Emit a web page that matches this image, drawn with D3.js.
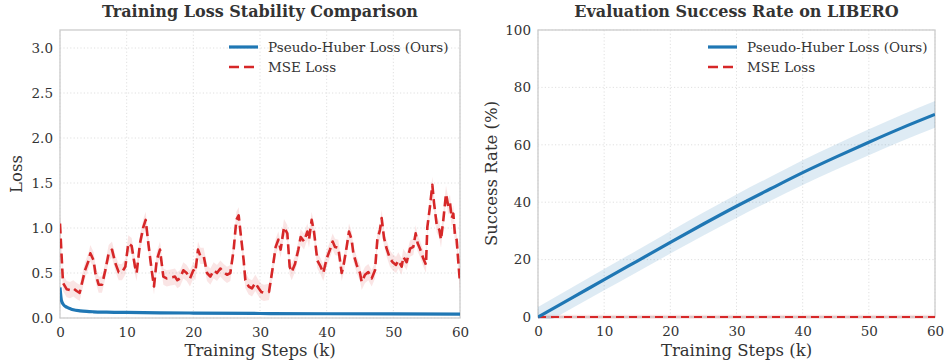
<!DOCTYPE html>
<html><head><meta charset="utf-8">
<script src="https://cdn.jsdelivr.net/npm/d3@7"></script>
<style>
body{margin:0;background:#fff;}
svg text{font-family:"DejaVu Serif",serif;fill:#333;}
</style></head>
<body><svg id="c" width="949" height="364"></svg>
<script>
// ---- data ----
const seriesNames = ["Pseudo-Huber Loss (Ours)", "MSE Loss"];
const xTicks = [0, 10, 20, 30, 40, 50, 60];
const lossTicks = [0.0, 0.5, 1.0, 1.5, 2.0, 2.5, 3.0];
const successTicks = [0, 20, 40, 60, 80, 100];

const huberSteps = [0, 0.2, 0.5, 1, 1.5, 2, 3, 4, 5, 7, 10, 15, 20, 30, 40, 50, 60];
const huberLoss  = [0.34, 0.2, 0.15, 0.12, 0.105, 0.092, 0.08, 0.073, 0.069, 0.065, 0.062, 0.058, 0.055, 0.05, 0.047, 0.045, 0.044];
const huberBand = 0.012;

const mseSteps = [0,0.2,0.45,1.0,1.5,2.0,2.5,2.95,3.4,3.75,4.3,4.55,5.05,5.3,5.8,6.3,6.8,7.3,7.8,8.3,8.8,9.3,9.8,10.25,10.75,11.25,11.5,12,12.5,12.85,13.25,13.75,14.1,14.5,15,15.5,16,16.6,17.25,17.6,18,18.5,19,19.5,20,20.3,20.7,21.05,21.55,22.05,22.55,23.05,23.55,24.05,24.55,25.05,25.55,26.05,26.45,26.8,27.2,27.55,27.8,28.3,28.8,29.3,29.8,30.2,30.6,31.35,31.85,32.35,32.75,33.1,33.6,34.1,34.45,34.75,35.25,35.75,36.1,36.6,37.1,37.35,37.75,38.1,38.6,39.1,39.5,40,40.5,40.9,41.25,41.75,42.25,42.5,43,43.35,43.75,44,44.5,45,45.25,45.75,46.25,46.75,47.25,47.6,48,48.25,48.6,49,49.5,49.9,50.4,50.75,51.25,51.5,52,52.5,53,53.35,53.65,54,54.5,54.9,55.1,55.5,55.85,56.1,56.5,56.9,57.15,57.5,57.9,58.25,58.5,58.75,59,59.25,59.5,59.75,60];
const mseLoss = [1.05,0.75,0.39,0.32,0.31,0.33,0.30,0.28,0.42,0.53,0.64,0.72,0.64,0.5,0.37,0.37,0.53,0.72,0.76,0.61,0.51,0.51,0.57,0.83,0.80,0.57,0.50,0.83,1.01,1.09,0.83,0.53,0.35,0.64,0.76,0.46,0.44,0.45,0.46,0.42,0.44,0.53,0.50,0.44,0.53,0.51,0.76,0.69,0.69,0.50,0.46,0.53,0.50,0.55,0.51,0.48,0.50,0.76,1.09,1.14,0.87,0.64,0.42,0.35,0.33,0.39,0.33,0.29,0.28,0.29,0.53,0.79,0.87,0.76,1.01,0.94,0.57,0.51,0.60,0.76,0.90,0.85,0.96,0.87,1.09,0.96,0.64,0.57,0.50,0.66,0.76,0.85,0.79,0.78,0.50,0.57,0.79,0.96,0.87,0.72,0.59,0.50,0.40,0.48,0.51,0.44,0.53,0.87,0.98,1.11,0.89,0.77,0.66,0.62,0.59,0.64,0.57,0.68,0.62,0.77,0.79,0.94,0.83,0.77,0.66,0.59,1.01,1.24,1.48,1.28,1.04,0.98,0.87,1.09,1.38,1.24,1.28,1.11,1.16,0.91,0.87,0.62,0.39];
const mseBand = 0.09;

const evalSteps = [0, 5, 10, 15, 20, 25, 30, 35, 40, 45, 50, 55, 60];
const huberSuccess = [0, 6.5, 13.0, 19.5, 26.0, 32.4, 38.6, 44.5, 50.3, 55.7, 60.9, 65.9, 70.6];
const huberSuccessBand = [3.5, 3.6, 3.7, 3.8, 3.9, 4.0, 4.1, 4.2, 4.3, 4.4, 4.5, 4.6, 4.7];
const mseSuccess = [0, 0, 0, 0, 0, 0, 0, 0, 0, 0, 0, 0, 0];
const mseSuccessBand = 0.8;

// ---- drawing ----
const blue = "#1f77b4", red = "#d62728";
const svg = d3.select("#c");

function panel(o) {
  const g = svg.append("g");
  const x = d3.scaleLinear().domain([0, 60]).range([o.x0, o.x1]);
  const y = d3.scaleLinear().domain(o.yDomain).range([o.y0, o.y1]);
  const clipId = "clip" + o.id;
  svg.append("clipPath").attr("id", clipId).append("rect")
    .attr("x", o.x0).attr("y", o.y1).attr("width", o.x1 - o.x0).attr("height", o.y0 - o.y1 + o.clipExtra);
  // grid
  g.selectAll(".gx").data(xTicks).join("line")
    .attr("x1", d => x(d)).attr("x2", d => x(d)).attr("y1", o.y0).attr("y2", o.y1)
    .attr("stroke", "#dcdcdc").attr("stroke-width", 0.9).attr("stroke-dasharray", "1.2,2.2");
  g.selectAll(".gy").data(o.yTicks).join("line")
    .attr("x1", o.x0).attr("x2", o.x1).attr("y1", d => y(d)).attr("y2", d => y(d))
    .attr("stroke", "#dcdcdc").attr("stroke-width", 0.9).attr("stroke-dasharray", "1.2,2.2");
  // axes labels via d3 axes
  const ax = g.append("g").attr("transform", `translate(0,${o.y0 + 1})`)
    .call(d3.axisBottom(x).tickValues(xTicks).tickSize(0).tickPadding(6).tickFormat(d3.format("d")));
  const ay = g.append("g").attr("transform", `translate(${o.x0 - 1},0)`)
    .call(d3.axisLeft(y).tickValues(o.yTicks).tickSize(0).tickPadding(6).tickFormat(o.yFmt));
  [ax, ay].forEach(a => { a.select(".domain").remove(); a.selectAll("text").attr("font-size", 13.5).attr("fill", "#333").attr("font-family", "DejaVu Serif"); });
  ax.selectAll("text").attr("dy", "0.9em");

  // frame
  g.append("rect").attr("x", o.x0).attr("y", o.y1).attr("width", o.x1 - o.x0).attr("height", o.y0 - o.y1)
    .attr("fill", "none").attr("stroke", "#cccccc").attr("stroke-width", 1.3);

  const plot = g.append("g").attr("clip-path", `url(#${clipId})`);
  o.draw(plot, x, y);

  // titles
  g.append("text").attr("x", (o.x0 + o.x1) / 2).attr("y", 17).attr("text-anchor", "middle")
    .attr("font-size", 16).attr("font-weight", "bold").attr("fill", "#262626").text(o.title);
  g.append("text").attr("x", (o.x0 + o.x1) / 2).attr("y", 356).attr("text-anchor", "middle")
    .attr("font-size", 16.5).attr("fill", "#333").text("Training Steps (k)");
  g.append("text").attr("transform", `translate(${o.ylabX},${(o.y0 + o.y1) / 2}) rotate(-90)`)
    .attr("text-anchor", "middle").attr("font-size", 16.5).attr("fill", "#333").text(o.ylabel);

  // legend
  const lg = g.append("g").attr("transform", `translate(${o.legX},0)`);
  lg.append("line").attr("x1", 0).attr("x2", 29).attr("y1", 47).attr("y2", 47)
    .attr("stroke", blue).attr("stroke-width", 3.2);
  lg.append("line").attr("x1", 0).attr("x2", 29).attr("y1", 67).attr("y2", 67)
    .attr("stroke", red).attr("stroke-width", 2.6).attr("stroke-dasharray", "10,5");
  lg.selectAll(".lt").data(seriesNames).join("text")
    .attr("x", 39).attr("y", (d, i) => 47 + i * 20).attr("dy", "0.35em")
    .attr("font-size", 13.5).attr("fill", "#333").text(d => d);
}

panel({
  id: "L", x0: 60, x1: 460, y0: 318, y1: 30, yDomain: [0, 3.2], yTicks: lossTicks, clipExtra: 1,
  yFmt: d3.format(".1f"), title: "Training Loss Stability Comparison", ylabel: "Loss", ylabX: 22, legX: 229,
  draw: (p, x, y) => {
    const mse = mseSteps.map((s, i) => [s, mseLoss[i]]);
    const hub = huberSteps.map((s, i) => [s, huberLoss[i]]);
    p.append("path").datum(mse).attr("fill", red).attr("fill-opacity", 0.12)
      .attr("d", d3.area().x(d => x(d[0])).y0(d => y(d[1] - mseBand)).y1(d => y(d[1] + mseBand)));
    p.append("path").datum(hub).attr("fill", blue).attr("fill-opacity", 0.15)
      .attr("d", d3.area().x(d => x(d[0])).y0(d => y(d[1] - huberBand)).y1(d => y(d[1] + huberBand)));
    p.append("path").datum(hub).attr("fill", "none").attr("stroke", blue).attr("stroke-width", 3.2)
      .attr("d", d3.line().x(d => x(d[0])).y(d => y(d[1])).curve(d3.curveMonotoneX));
    p.append("path").datum(mse).attr("fill", "none").attr("stroke", red).attr("stroke-width", 2.6)
      .attr("stroke-dasharray", "10,5").attr("stroke-linejoin", "round")
      .attr("d", d3.line().x(d => x(d[0])).y(d => y(d[1])));
  }
});

panel({
  id: "R", x0: 538, x1: 935, y0: 317, y1: 30, yDomain: [0, 100], yTicks: successTicks, clipExtra: 2,
  yFmt: d3.format("d"), title: "Evaluation Success Rate on LIBERO", ylabel: "Success Rate (%)", ylabX: 497, legX: 708,
  draw: (p, x, y) => {
    const hub = evalSteps.map((s, i) => [s, huberSuccess[i], huberSuccessBand[i]]);
    const mse = evalSteps.map((s, i) => [s, mseSuccess[i]]);
    p.append("path").datum(hub).attr("fill", blue).attr("fill-opacity", 0.15)
      .attr("d", d3.area().x(d => x(d[0])).y0(d => y(d[1] - d[2])).y1(d => y(d[1] + d[2])).curve(d3.curveMonotoneX));
    p.append("path").datum(mse).attr("fill", red).attr("fill-opacity", 0.12)
      .attr("d", d3.area().x(d => x(d[0])).y0(d => y(d[1] - mseSuccessBand)).y1(d => y(d[1] + mseSuccessBand)));
    p.append("path").datum(mse).attr("fill", "none").attr("stroke", red).attr("stroke-width", 1.8)
      .attr("stroke-dasharray", "8,5")
      .attr("d", d3.line().x(d => x(d[0])).y(d => y(d[1])));
    p.append("path").datum(hub).attr("fill", "none").attr("stroke", blue).attr("stroke-width", 3.2)
      .attr("d", d3.line().x(d => x(d[0])).y(d => y(d[1])).curve(d3.curveMonotoneX));
  }
});
</script></body></html>
